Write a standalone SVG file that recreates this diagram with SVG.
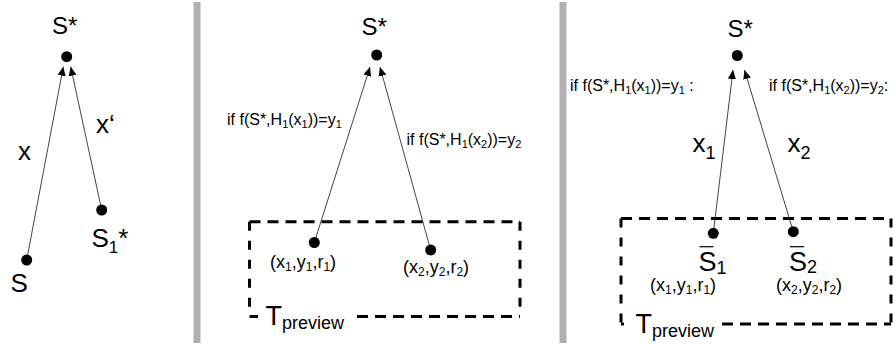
<svg xmlns="http://www.w3.org/2000/svg" width="894" height="345" viewBox="0 0 894 345">
<style>
  text { font-family: "Liberation Sans", Arial, sans-serif; fill: #000; }
  .lbl { font-size: 16px; }
  .big { font-size: 26px; }
  .star { font-size: 24px; }
  .tup { font-size: 18px; }
  .edge { stroke: #444; stroke-width: 1; fill: none; marker-end: url(#ah); }
  .dash-h { stroke: #000; stroke-width: 3; stroke-dasharray: 11 7; fill: none; }
  .dash-v { stroke: #000; stroke-width: 3; stroke-dasharray: 9 10; fill: none; }
  .sep { fill: #b0b0b0; }
</style>
<defs>
  <marker id="ah" markerUnits="userSpaceOnUse" markerWidth="10" markerHeight="8" refX="9" refY="4" orient="auto">
    <path d="M0,0 L9,4 L0,8 Z" fill="#000"/>
  </marker>
</defs>

<rect class="sep" x="193.5" y="2" width="7" height="341"/>
<rect class="sep" x="559.5" y="2" width="7" height="341"/>

<g id="connectors">
  <line class="edge" x1="26.7" y1="260" x2="63.3" y2="66.7"/>
  <line class="edge" x1="101.7" y1="210" x2="70.7" y2="66.7"/>
  <line class="edge" x1="314.3" y1="242.5" x2="370" y2="67"/>
  <line class="edge" x1="430.7" y1="250" x2="380" y2="67"/>
  <line class="edge" x1="713.3" y1="233.3" x2="733" y2="70"/>
  <line class="edge" x1="793.3" y1="231.7" x2="744.5" y2="70"/>
</g>

<!-- Panel 1 -->
<g id="p1-sstar">
  <circle cx="66.7" cy="56.7" r="5.5"/>
  <text class="star" x="52" y="34">S*</text>
</g>
<g id="p1-s">
  <circle cx="26.7" cy="260" r="5.5"/>
  <text class="big" x="10.5" y="291.5">S</text>
</g>
<g id="p1-s1star">
  <circle cx="101.7" cy="210" r="5.5"/>
  <text class="big" x="91.5" y="246.5">S<tspan font-size="17" dy="6.5">1</tspan><tspan dy="-6.5">*</tspan></text>
</g>
<g id="p1-labels">
  <text font-size="26" x="18" y="160">x</text>
  <text font-size="26" x="96" y="133.3">x‘</text>
</g>

<!-- Panel 2 -->
<g id="p2-sstar">
  <circle cx="376.7" cy="55" r="5.5"/>
  <text class="star" x="361.5" y="35">S*</text>
</g>
<g id="p2-box">
  <path class="dash-h" d="M249.5,221.7 H520"/>
  <path class="dash-v" d="M249.5,221.7 V316.5"/>
  <path class="dash-v" d="M520,221.7 V316.5"/>
  <path class="dash-h" d="M249.5,316.5 H258"/>
  <path class="dash-h" d="M357,316.5 H520"/>
  <text font-size="27" x="265.5" y="325">T<tspan font-size="18" dy="4">preview</tspan></text>
</g>
<g id="p2-t1">
  <circle cx="314.3" cy="242.5" r="5.5"/>
  <text class="tup" x="270" y="268">(x<tspan font-size="12" dy="3">1</tspan><tspan dy="-3">,y</tspan><tspan font-size="12" dy="3">1</tspan><tspan dy="-3">,r</tspan><tspan font-size="12" dy="3">1</tspan><tspan dy="-3">)</tspan></text>
</g>
<g id="p2-t2">
  <circle cx="430.7" cy="250" r="5.5"/>
  <text class="tup" x="403" y="273">(x<tspan font-size="12" dy="3">2</tspan><tspan dy="-3">,y</tspan><tspan font-size="12" dy="3">2</tspan><tspan dy="-3">,r</tspan><tspan font-size="12" dy="3">2</tspan><tspan dy="-3">)</tspan></text>
</g>
<g id="p2-labels">
  <text class="lbl" x="227" y="125">if f(S*,H<tspan font-size="11" dy="3">1</tspan><tspan dy="-3">(x</tspan><tspan font-size="11" dy="3">1</tspan><tspan dy="-3">))=y</tspan><tspan font-size="11" dy="3">1</tspan></text>
  <text class="lbl" x="406.5" y="145">if f(S*,H<tspan font-size="11" dy="3">1</tspan><tspan dy="-3">(x</tspan><tspan font-size="11" dy="3">2</tspan><tspan dy="-3">))=y</tspan><tspan font-size="11" dy="3">2</tspan></text>
</g>

<!-- Panel 3 -->
<g id="p3-sstar">
  <circle cx="737.3" cy="55.5" r="5.5"/>
  <text class="star" x="727.5" y="37">S*</text>
</g>
<g id="p3-box">
  <path class="dash-h" d="M621,218.5 H891"/>
  <path class="dash-v" d="M621,218.5 V324"/>
  <path class="dash-v" d="M891,218.5 V324"/>
  <path class="dash-h" d="M621,324 H624"/>
  <path class="dash-h" d="M722,324 H891"/>
  <text font-size="27" x="635.5" y="333">T<tspan font-size="18" dy="4">preview</tspan></text>
</g>
<g id="p3-s1">
  <circle cx="713.3" cy="233.3" r="5.5"/>
  <line x1="699.5" y1="246.7" x2="713.5" y2="246.7" stroke="#000" stroke-width="1.2"/>
  <text font-size="27" x="698.5" y="271">S<tspan font-size="18" dy="3">1</tspan></text>
  <text class="tup" x="650" y="291">(x<tspan font-size="12" dy="3">1</tspan><tspan dy="-3">,y</tspan><tspan font-size="12" dy="3">1</tspan><tspan dy="-3">,r</tspan><tspan font-size="12" dy="3">1</tspan><tspan dy="-3">)</tspan></text>
</g>
<g id="p3-s2">
  <circle cx="793.3" cy="231.7" r="5.5"/>
  <line x1="790" y1="246.7" x2="804" y2="246.7" stroke="#000" stroke-width="1.2"/>
  <text font-size="27" x="789" y="271">S<tspan font-size="18" dy="2">2</tspan></text>
  <text class="tup" x="776" y="291">(x<tspan font-size="12" dy="3">2</tspan><tspan dy="-3">,y</tspan><tspan font-size="12" dy="3">2</tspan><tspan dy="-3">,r</tspan><tspan font-size="12" dy="3">2</tspan><tspan dy="-3">)</tspan></text>
</g>
<g id="p3-labels">
  <text class="lbl" x="570" y="91">if f(S*,H<tspan font-size="11" dy="3">1</tspan><tspan dy="-3">(x</tspan><tspan font-size="11" dy="3">1</tspan><tspan dy="-3">))=y</tspan><tspan font-size="11" dy="3">1</tspan><tspan dy="-3"> :</tspan></text>
  <text class="lbl" x="769" y="91">if f(S*,H<tspan font-size="11" dy="3">1</tspan><tspan dy="-3">(x</tspan><tspan font-size="11" dy="3">2</tspan><tspan dy="-3">))=y</tspan><tspan font-size="11" dy="3">2</tspan><tspan dy="-3">:</tspan></text>
  <text font-size="26" x="692.5" y="152">x<tspan font-size="18" dy="7">1</tspan></text>
  <text font-size="26" x="787.5" y="152">x<tspan font-size="18" dy="7">2</tspan></text>
</g>
</svg>
